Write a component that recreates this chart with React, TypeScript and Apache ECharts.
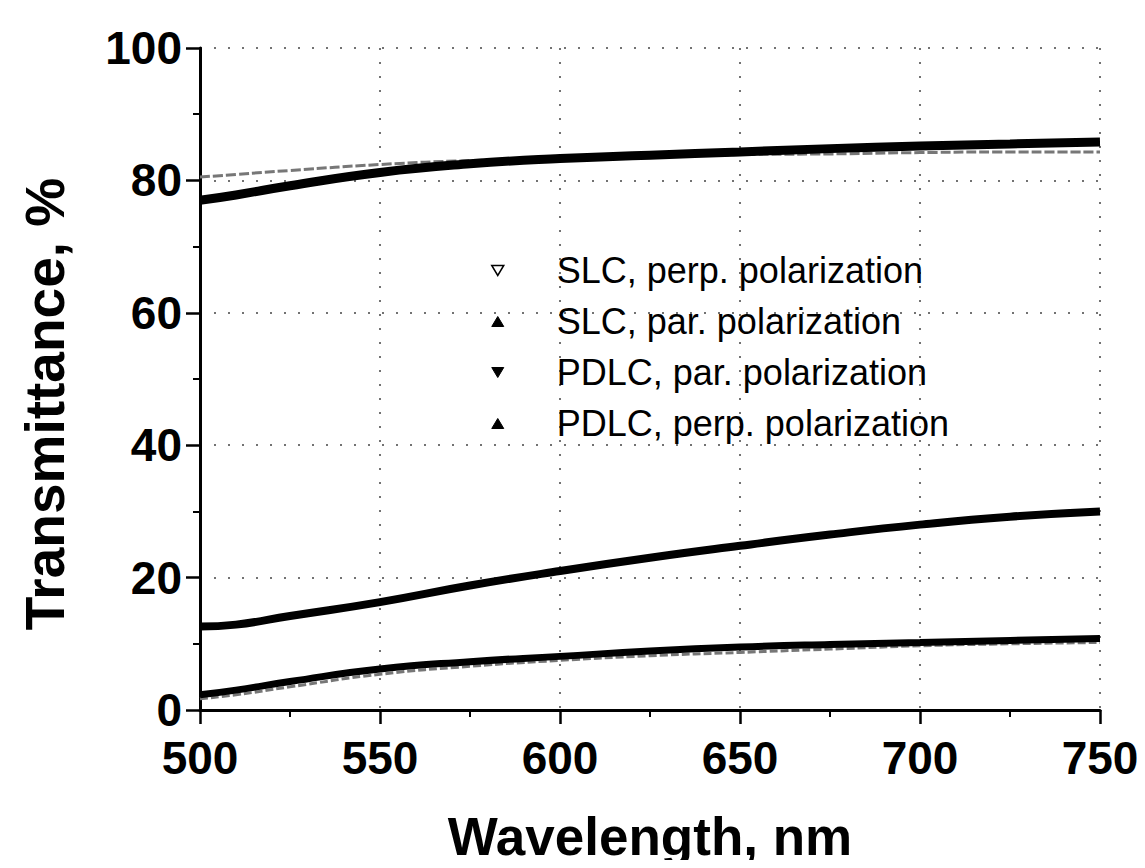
import React, { useEffect, useRef } from "react";
import * as echarts from "echarts";

const wavelengths = [500, 510, 525, 550, 575, 600, 625, 650, 675, 700, 725, 750];
const slcPerp = [80.5, 80.9, 81.5, 82.4, 83.0, 83.3, 83.6, 83.9, 84.0, 84.2, 84.3, 84.3];
const slcPar = [77.0, 77.8, 79.2, 81.2, 82.5, 83.3, 83.8, 84.3, 84.8, 85.2, 85.5, 85.8];
const pdlcPar = [2.3, 3.0, 4.3, 6.2, 7.3, 8.1, 8.9, 9.5, 9.9, 10.2, 10.5, 10.8];
const pdlcParLower = [1.7, 2.3, 3.5, 5.4, 6.6, 7.5, 8.2, 8.7, 9.2, 9.7, 10.0, 10.2];
const pdlcPerp = [12.6, 12.9, 14.2, 16.3, 18.8, 21.0, 23.0, 24.8, 26.5, 28.0, 29.2, 30.0];
const legendNames = [
  "SLC, perp. polarization",
  "SLC, par. polarization",
  "PDLC, par. polarization",
  "PDLC, perp. polarization",
];

const FONT = "'Liberation Sans', Arial, Helvetica, sans-serif";
const DOWN = "path://M0,0 L12,0 L6,10 Z";
const UP = "path://M6,0 L12,10 L0,10 Z";

function pairs(vals: number[]) {
  return wavelengths.map((w, i) => [w, vals[i]]);
}

export default function App() {
  const ref = useRef<HTMLDivElement>(null);
  useEffect(() => {
    if (!ref.current) return;
    const chart = echarts.init(ref.current, null, { renderer: "svg" });
    const axisCommon = {
      type: "value" as const,
      axisLine: { show: true, onZero: false, lineStyle: { color: "#000", width: 3 } },
      axisTick: { show: true, inside: false, length: 14, lineStyle: { color: "#000", width: 2.5 } },
      minorTick: { show: true, splitNumber: 2, length: 7, lineStyle: { color: "#000", width: 2 } },
      splitLine: { show: true, lineStyle: { color: "#444", width: 1.5, type: [2, 12] } },
      axisLabel: { color: "#000", fontFamily: FONT, fontWeight: "bold", fontSize: 46, margin: 18 },
      nameTextStyle: { color: "#000", fontFamily: FONT, fontWeight: "bold", fontSize: 55 },
    };
    chart.setOption({
      animation: false,
      backgroundColor: "#fff",
      grid: { left: 200, right: 45, top: 48, bottom: 155, containLabel: false },
      xAxis: {
        ...axisCommon,
        min: 500,
        max: 750,
        interval: 50,
        axisLabel: { ...axisCommon.axisLabel, margin: 25 },
        name: "Wavelength, nm",
        nameLocation: "middle",
        nameGap: 100,
        nameTextStyle: { ...axisCommon.nameTextStyle, fontSize: 53 },
      },
      yAxis: {
        ...axisCommon,
        min: 0,
        max: 100,
        interval: 20,
        name: "Transmittance, %",
        nameLocation: "middle",
        nameGap: 128,
        nameTextStyle: { ...axisCommon.nameTextStyle, padding: [0, 50, 0, 0] },
      },
      legend: {
        orient: "vertical",
        left: 486,
        top: 240,
        itemWidth: 12,
        itemHeight: 10,
        itemGap: 0,
        selectedMode: false,
        textStyle: { color: "#000", fontFamily: FONT, fontSize: 36, lineHeight: 51, padding: [0, 0, 0, 48] },
        data: [
          { name: legendNames[0], icon: DOWN, itemStyle: { color: "#fff", borderColor: "#000", borderWidth: 1.5 } },
          { name: legendNames[1], icon: UP, itemStyle: { color: "#000", borderColor: "#000", borderWidth: 1 } },
          { name: legendNames[2], icon: DOWN, itemStyle: { color: "#000", borderColor: "#000", borderWidth: 1 } },
          { name: legendNames[3], icon: UP, itemStyle: { color: "#000", borderColor: "#000", borderWidth: 1 } },
        ],
      },
      series: [
        {
          name: legendNames[0],
          type: "line",
          smooth: true,
          showSymbol: false,
          data: pairs(slcPerp),
          lineStyle: { color: "#777", width: 3, type: [10, 3] },
          itemStyle: { color: "#777" },
          z: 2,
        },
        {
          name: legendNames[1],
          type: "line",
          smooth: true,
          showSymbol: false,
          data: pairs(slcPar),
          lineStyle: { color: "#000", width: 9 },
          itemStyle: { color: "#000" },
          z: 3,
        },
        {
          name: "PDLC, par. (lower trace)",
          type: "line",
          smooth: true,
          showSymbol: false,
          data: pairs(pdlcParLower),
          lineStyle: { color: "#777", width: 3, type: [8, 3] },
          itemStyle: { color: "#777" },
          z: 2,
        },
        {
          name: legendNames[2],
          type: "line",
          smooth: true,
          showSymbol: false,
          data: pairs(pdlcPar),
          lineStyle: { color: "#000", width: 7 },
          itemStyle: { color: "#000" },
          z: 3,
        },
        {
          name: legendNames[3],
          type: "line",
          smooth: true,
          showSymbol: false,
          data: pairs(pdlcPerp),
          lineStyle: { color: "#000", width: 8 },
          itemStyle: { color: "#000" },
          z: 3,
        },
      ],
    });
    return () => chart.dispose();
  }, []);
  return <div ref={ref} style={{ width: 1145, height: 868, margin: -8 }} />;
}
